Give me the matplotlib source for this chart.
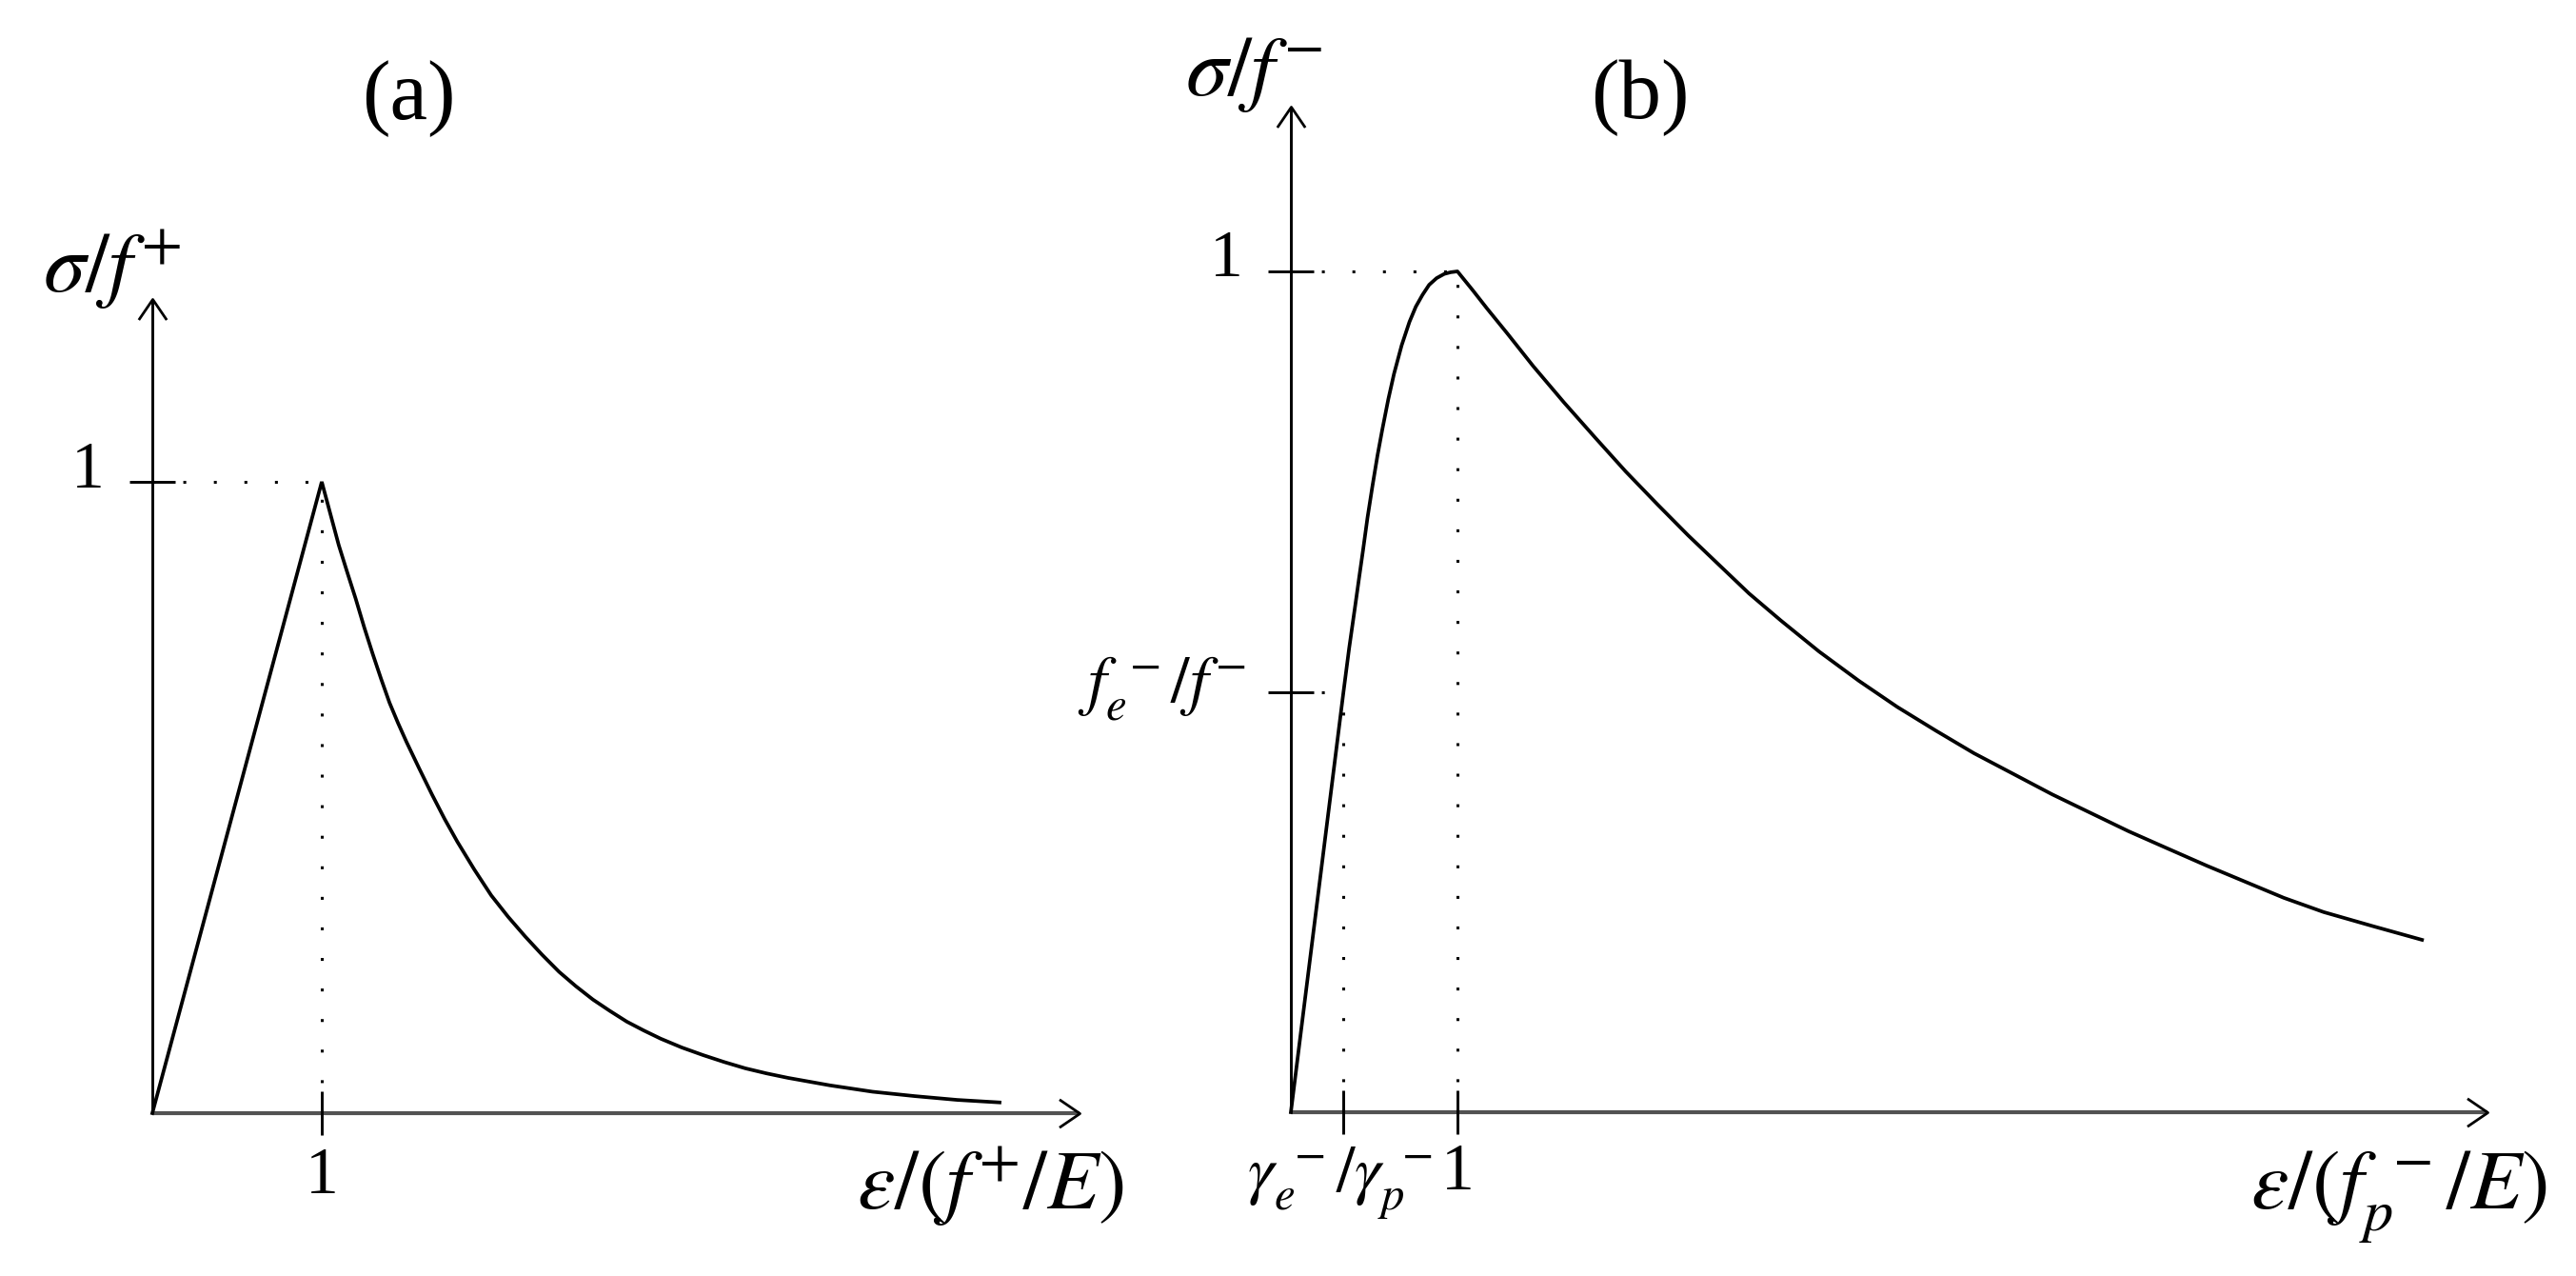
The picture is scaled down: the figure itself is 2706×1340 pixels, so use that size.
import numpy as np
import matplotlib
matplotlib.use("Agg")
import matplotlib.pyplot as plt
from matplotlib.path import Path

plt.rcParams['mathtext.fontset'] = 'stix'
plt.rcParams['font.family'] = ['Liberation Serif', 'DejaVu Serif']

# ---------------- data (normalised values) ----------------
# Panel (a): tension  sigma/f+  vs  eps/(f+/E)
a_rise_x = [0.0, 1.0]
a_rise_y = [0.0, 1.0]
a_soft_x = [1.00, 1.05, 1.10, 1.15, 1.20, 1.25, 1.30, 1.35, 1.40, 1.45, 1.50, 1.575, 1.65, 1.725, 1.80,
            1.90, 2.00, 2.10, 2.20, 2.30, 2.40, 2.50, 2.60, 2.70, 2.80, 2.90, 3.00, 3.125, 3.25,
            3.375, 3.50, 3.625, 3.75, 3.875, 4.00, 4.25, 4.50, 4.75, 5.00]
a_soft_y = [1.000, 0.950, 0.900, 0.857, 0.815, 0.770, 0.728, 0.688, 0.650, 0.618, 0.588, 0.546, 0.505,
            0.466, 0.430, 0.386, 0.345, 0.311, 0.280, 0.251, 0.224, 0.201, 0.180, 0.162, 0.145,
            0.131, 0.118, 0.104, 0.092, 0.081, 0.071, 0.063, 0.056, 0.050, 0.044, 0.034, 0.027,
            0.021, 0.017]

# Panel (b): compression  sigma/f-  vs  eps/(fp-/E)
b_rise_x = [0.000, 0.316, 0.350, 0.386, 0.410, 0.433, 0.460, 0.490, 0.520, 0.549, 0.585, 0.619,
            0.665, 0.712, 0.750, 0.790, 0.830, 0.875, 0.921, 0.960, 1.000]
b_rise_y = [0.000, 0.500, 0.552, 0.602, 0.636, 0.668, 0.707, 0.745, 0.781, 0.812, 0.848, 0.878,
            0.912, 0.940, 0.958, 0.972, 0.984, 0.992, 0.997, 0.999, 1.000]
b_soft_x = [1.000, 1.090, 1.177, 1.300, 1.456, 1.640, 1.828, 2.010, 2.200, 2.385, 2.570, 2.750,
            2.940, 3.170, 3.410, 3.640, 3.870, 4.100, 4.340, 4.570, 4.800, 5.030, 5.270, 5.500,
            5.730, 5.960, 6.200, 6.500, 6.790]
b_soft_y = [1.000, 0.978, 0.956, 0.926, 0.887, 0.844, 0.802, 0.762, 0.723, 0.686, 0.651, 0.617,
            0.585, 0.548, 0.513, 0.482, 0.454, 0.427, 0.402, 0.378, 0.356, 0.334, 0.313, 0.293,
            0.274, 0.255, 0.238, 0.221, 0.205]

b_gamma_ratio = 0.316   # gamma_e- / gamma_p-
b_fe_ratio = 0.50       # f_e- / f-

# ---------------- figure ----------------
W, H = 2706, 1340
fig = plt.figure(figsize=(W / 100, H / 100), dpi=100)


def make_axes(ox, oy, ux, uy):
    ax = fig.add_axes([0, 0, 1, 1])
    ax.set_xlim(-ox / ux, (W - ox) / ux)
    ax.set_ylim(-(H - oy) / uy, oy / uy)
    ax.axis('off')
    ax.patch.set_alpha(0)
    return ax


axA = make_axes(160, 1169, 178, 663)
axB = make_axes(1356, 1168, 175, 883)

# open arrow heads as custom markers
head_right = Path([(-22, 15), (0, 0), (-22, -15)], [Path.MOVETO, Path.LINETO, Path.LINETO])
head_up = Path([(-15, -22), (0, 0), (15, -22)], [Path.MOVETO, Path.LINETO, Path.LINETO])

DOT = (0, (1, 9.5))
DOT_LW = 2.2
CURVE_LW = 2.7


def draw_axes(ax, xend, yend):
    ax.plot([0, xend], [0, 0], color='0.32', lw=3.0, solid_capstyle='butt', zorder=2)
    ax.plot([0, 0], [0, yend], color='k', lw=2.1, solid_capstyle='butt', zorder=2)
    ax.plot([xend], [0], marker=head_right, ms=31, mfc='none', mec='k', mew=2.0, zorder=3)
    ax.plot([0], [yend], marker=head_up, ms=31, mfc='none', mec='k', mew=2.0, zorder=3)


def xtick(ax, x):
    ax.plot([x], [0], marker='|', ms=33, mew=2.1, color='k', zorder=3)


def ytick(ax, y):
    ax.plot([0], [y], marker='_', ms=35, mew=2.1, color='k', zorder=3)


# ----- panel (a)
draw_axes(axA, 5.47, 1.29)
axA.plot([0, a_rise_x[1]], [1, 1], color='k', lw=DOT_LW, ls=DOT)
axA.plot([1, 1], [0, a_rise_y[1]], color='k', lw=DOT_LW, ls=DOT)
ytick(axA, 1)
xtick(axA, 1)
axA.plot(a_rise_x + a_soft_x[1:], a_rise_y + a_soft_y[1:], color='k', lw=CURVE_LW,
         solid_joinstyle='miter', zorder=4)

# ----- panel (b)
draw_axes(axB, 7.18, 1.196)
axB.plot([0, 1], [1, 1], color='k', lw=DOT_LW, ls=DOT)
axB.plot([1, 1], [0, 1], color='k', lw=DOT_LW, ls=DOT)
axB.plot([b_gamma_ratio, b_gamma_ratio], [0, b_fe_ratio], color='k', lw=DOT_LW, ls=DOT)
axB.plot([0, b_gamma_ratio], [b_fe_ratio, b_fe_ratio], color='k', lw=DOT_LW, ls=DOT)
ytick(axB, 1)
ytick(axB, b_fe_ratio)
xtick(axB, 1)
xtick(axB, b_gamma_ratio)
axB.plot(b_rise_x + b_soft_x[1:], b_rise_y + b_soft_y[1:], color='k', lw=CURVE_LW,
         solid_joinstyle='round', zorder=4)


# ---------------- texts (pixel placement) ----------------
def ftext(x, y, s, size, ha='center', va='baseline'):
    fig.text(x / W, 1 - y / H, s, fontsize=size, ha=ha, va=va, color='k')


LAB = 64
TCK = 50
ftext(429, 104, '(a)', 64, va='center')
ftext(1723, 103, '(b)', 64, va='center')

ftext(190, 307, r'$\sigma/f^{+}$', LAB, ha='right')
ftext(1389, 100, r'$\sigma/f^{-}$', LAB, ha='right')

ftext(110, 512, '1', TCK, ha='right')
ftext(1306, 290, '1', TCK, ha='right')
ftext(1309, 738, r'$f_{e}^{\;-}/f^{-}$', TCK, ha='right')

ftext(338, 1253, '1', TCK)
ftext(1531, 1249, '1', TCK)
ftext(1407, 1252, r'$\gamma_{e}^{\;-}/\gamma_{p}^{\;-}$', TCK)

ftext(900, 1270, r'$\varepsilon/(f^{+}/E)$', LAB, ha='left')
ftext(2364, 1270, r'$\varepsilon/(f_{p}^{\;-}/E)$', LAB, ha='left')

fig.savefig('out.png', dpi=100, facecolor='white')
